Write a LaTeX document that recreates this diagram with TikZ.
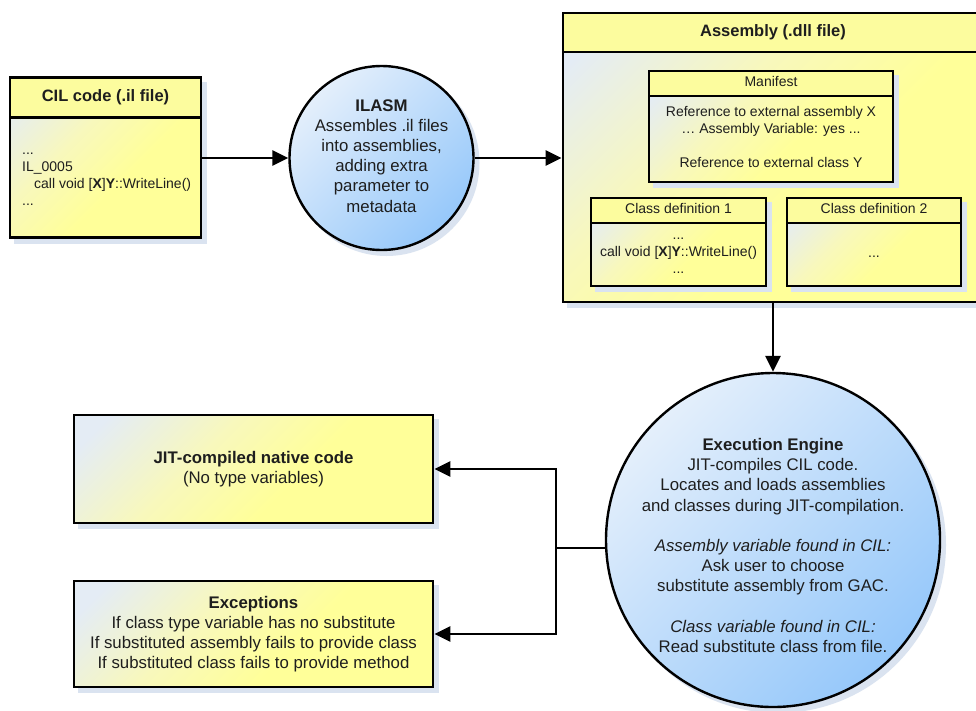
\documentclass[tikz,border=0pt]{standalone}
\usepackage{fontspec}
\setmainfont{Liberation Sans}
\usetikzlibrary{arrows.meta,calc}
\definecolor{txt}{HTML}{1E1E1E}
\definecolor{boxA}{HTML}{E4ECF5}
\definecolor{boxM}{HTML}{F8F8BC}
\definecolor{boxB}{HTML}{FFFF99}
\definecolor{hdr}{HTML}{FCFC9E}
\definecolor{cirA}{HTML}{E4EFFB}
\definecolor{cirB}{HTML}{96C8FA}
\definecolor{shd}{HTML}{DAE3F0}
\pgfdeclareverticalshading{boxsh}{100bp}{color(0bp)=(boxB); color(42bp)=(boxB); color(60bp)=(boxM); color(80bp)=(boxA); color(100bp)=(boxA)}
\begin{document}
\begin{tikzpicture}[x=1pt,y=-1pt,
  bigfont/.style={font=\fontsize{16.8}{20.2}\selectfont, text=txt, inner sep=0pt, align=center},
  smallfont/.style={font=\fontsize{14}{17}\selectfont, text=txt, inner sep=0pt, align=center},
  hdrfont/.style={font=\fontsize{16.5}{20}\selectfont\bfseries, text=txt, inner sep=0pt},
  shadowed/.style={preaction={draw=shd, fill=shd, line width=2pt, transform canvas={xshift=5pt, yshift=-5pt}}},
  box/.style={rectangle, draw=black, line width=2.8pt, inner sep=0pt,
    shading=boxsh, shading angle=45, shadowed},
  hdrbox/.style={path picture={
      \fill[hdr] (path picture bounding box.north west) rectangle ([yshift=-#1]path picture bounding box.north east);
      \draw[line width=2.8pt] ([yshift=-#1]path picture bounding box.north west) -- ([yshift=-#1]path picture bounding box.north east);}},
  circ/.style={circle, draw=black, line width=2.4pt, inner sep=0pt,
    top color=cirA, bottom color=cirB, shading angle=45, shadowed},
  conn/.style={line width=2.8pt, draw=black},
  arr/.style={conn, -{Triangle[length=16pt,width=15pt]}}
]
\clip (0,0) rectangle (976,710);
\fill[white] (0,0) rectangle (976,710);

% CIL code box
\node[box, hdrbox=40pt, minimum width=191pt, minimum height=160pt] (cil) at (105.5,157.5) {};
\node[hdrfont] (cilT) at (105.5,97.5) {CIL code (.il file)};
\node[smallfont, align=left, anchor=west] (cilB) at (22,177) {\strut...\\IL\_0005\\\hspace{12pt}call void [\textbf{X}]\textbf{Y}::WriteLine()\\...\strut};

% ILASM circle
\node[circ, minimum size=184pt] (ilasm) at (381.5,158) {};
\node[bigfont] (ilasmT) at (381.5,157.5) {\strut\textbf{ILASM}\\Assembles .il files\\into assemblies,\\adding extra\\parameter to\\metadata\strut};

% Assembly box
\node[box, hdrbox=39pt, minimum width=420pt, minimum height=289pt] (asm) at (773,157.5) {};
\node[hdrfont] (asmT) at (773,32.5) {Assembly (.dll file)};

% Manifest
\node[box, hdrbox=25pt, minimum width=244pt, minimum height=111pt] (man) at (771,126.5) {};
\node[smallfont] (manT) at (771,83.5) {\strut Manifest};
\node[smallfont] (manB) at (771,138.5) {\strut Reference to external assembly X\\… Assembly Variable: yes ...\\[17pt]Reference to external class Y\strut};

% Class definition 1
\node[box, hdrbox=25pt, minimum width=175pt, minimum height=88pt] (cd1) at (678.5,242) {};
\node[smallfont] (cd1T) at (678.5,210.5) {\strut Class definition 1};
\node[smallfont] (cd1B) at (678.5,253.5) {\strut...\\call void [\textbf{X}]\textbf{Y}::WriteLine()\\...\strut};

% Class definition 2
\node[box, hdrbox=25pt, minimum width=174pt, minimum height=88pt] (cd2) at (874,242) {};
\node[smallfont] (cd2T) at (874,210.5) {\strut Class definition 2};
\node[smallfont, anchor=base] (cd2B) at (874,257.5) {...};

% Execution Engine circle
\node[circ, minimum size=334pt] (ee) at (773,540) {};
\node[bigfont] (eeT) at (773,547.5) {\strut\textbf{Execution Engine}\\JIT-compiles CIL code.\\Locates and loads assemblies\\and classes during JIT-compilation.\\[20.2pt]\textit{Assembly variable found in CIL:}\\Ask user to choose\\substitute assembly from GAC.\\[20.2pt]\textit{Class variable found in CIL:}\\Read substitute class from file.\strut};

% JIT box
\node[box, minimum width=359pt, minimum height=108pt] (jit) at (253.5,469) {};
\node[bigfont] (jitT) at (253.5,469.5) {\strut\textbf{JIT-compiled native code}\\(No type variables)\strut};

% Exceptions box
\node[box, minimum width=359pt, minimum height=106pt] (exc) at (253.5,634) {};
\node[bigfont] (excT) at (253.5,634.5) {\strut\textbf{Exceptions}\\If class type variable has no substitute\\If substituted assembly fails to provide class\\If substituted class fails to provide method\strut};

% connectors
\draw[arr] (cil.east |- ilasm.west) -- (ilasm.west);
\draw[arr] (ilasm.east) -- (asm.west |- ilasm.east);
\draw[arr] (asm.south) -- (ee.north);
\coordinate (j) at (556,548);
\draw[conn] (ee.west |- j) -- (j);
\draw[arr] (j) |- (jit.east);
\draw[arr] (j) |- (exc.east);
\end{tikzpicture}
\end{document}
